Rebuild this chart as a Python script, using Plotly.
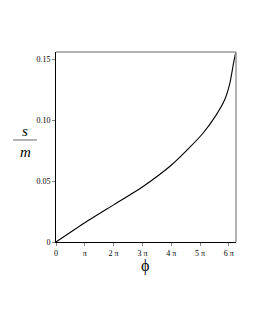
import numpy as np
import plotly.graph_objects as go

# data: x in multiples of pi, s/m values
phi_over_pi = [0, 1, 2, 3, 4, 4.59, 5.11, 5.57, 5.86, 6.04, 6.15, 6.22, 6.25]
s_over_m = [0, 0.0158, 0.0305, 0.0452, 0.063, 0.0764, 0.0895, 0.1046, 0.117, 0.1307, 0.145, 0.1535, 0.156]
tick_mult = [0, 1, 2, 3, 4, 5, 6]
tick_text = ["0", "π", "2 π", "3 π", "4 π", "5 π", "6 π"]
y_ticks = [0, 0.05, 0.10, 0.15]
y_text = ["0", "0.05", "0.10", "0.15"]

x = [v * np.pi for v in phi_over_pi]

fig = go.Figure()
fig.add_trace(go.Scatter(x=x, y=s_over_m, mode="lines",
                         line=dict(color="black", width=1.1, shape="spline", smoothing=0.6),
                         hoverinfo="skip"))

font = "Liberation Serif"
fig.update_layout(
    width=247, height=322,
    margin=dict(l=48, r=19, t=44, b=88),
    paper_bgcolor="white", plot_bgcolor="white",
    showlegend=False,
    font=dict(family=font, size=8, color="black"),
    xaxis=dict(range=[0, 6.25 * np.pi], tickvals=[k * np.pi for k in tick_mult], ticktext=tick_text,
               showgrid=False, zeroline=False, showline=True, linecolor="black", linewidth=1,
               ticks="outside", ticklen=3, tickcolor="#888", tickfont=dict(size=8, family=font)),
    yaxis=dict(range=[0, 0.156], tickvals=y_ticks, ticktext=y_text,
               showgrid=False, zeroline=False, showline=True, linecolor="black", linewidth=1,
               ticks="outside", ticklen=3, tickcolor="#888", tickfont=dict(size=8, family=font)),
    shapes=[
        dict(type="line", xref="paper", yref="paper", x0=0, x1=1, y0=1, y1=1,
             line=dict(color="#999", width=1.5)),
        dict(type="line", xref="paper", yref="paper", x0=1, x1=1, y0=0, y1=1,
             line=dict(color="#999", width=1.5)),
        dict(type="line", xref="paper", yref="paper", x0=-0.239, x1=-0.106, y0=0.537, y1=0.537,
             line=dict(color="#666", width=1)),
    ],
    annotations=[
        dict(text="<i>s</i>", xref="paper", yref="paper", x=-0.172, y=0.584, showarrow=False,
             font=dict(family=font, size=15, color="black"), xanchor="center", yanchor="middle"),
        dict(text="<i>m</i>", xref="paper", yref="paper", x=-0.172, y=0.474, showarrow=False,
             font=dict(family=font, size=15, color="black"), xanchor="center", yanchor="middle"),
        dict(text="ϕ", xref="paper", yref="paper", x=0.494, y=-0.126, showarrow=False,
             font=dict(family=font, size=16, color="black"), xanchor="center", yanchor="middle"),
    ],
)

fig.write_html("out.html")
